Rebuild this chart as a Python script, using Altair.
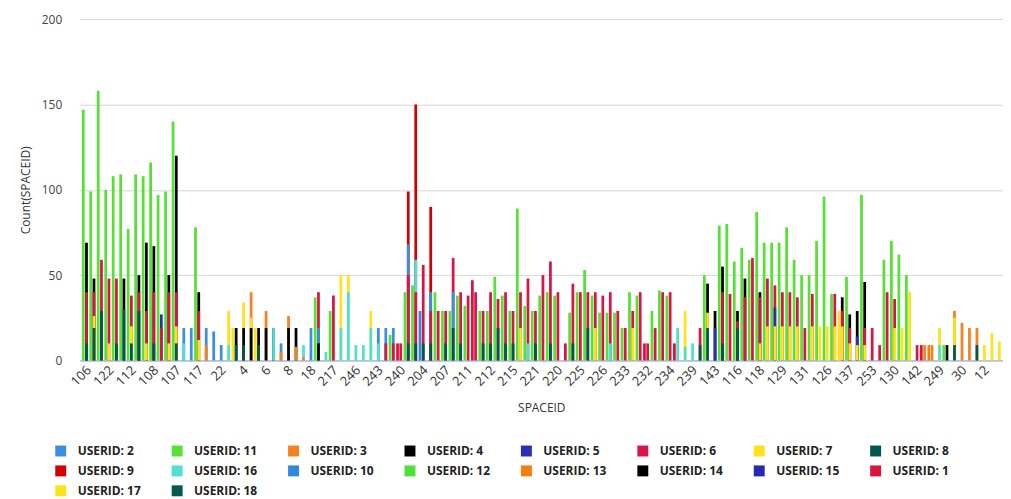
import json
import altair as alt
import pandas as pd

# ---------------- data ----------------
SPACEID_LABELS = ["106", "122", "112", "108", "107", "117", "22", "4", "6", "8", "18",
                  "217", "246", "243", "240", "204", "207", "211", "212", "215", "221",
                  "220", "225", "226", "233", "232", "234", "239", "143", "116", "118",
                  "129", "131", "126", "137", "253", "130", "142", "249", "30", "12"]
N_CATEGORIES = 123          # one SPACEID every position, labelled every third
LABEL_STEP = 3

LEGEND_ORDER = [2, 11, 3, 4, 5, 6, 7, 8, 9, 16, 10, 12, 13, 14, 15, 1, 17, 18]
COLORS = ["#3b8ee0", "#55e234", "#f5821f", "#000000", "#2a2fb4", "#dc1446",
          "#ffe11c", "#00574b", "#d40000", "#50e0d2", "#3189de", "#4fe03a",
          "#f57d12", "#000000", "#2329b0", "#dc143c", "#fde21a", "#005a4d"]
LEFT_USERS = [11, 12, 1, 17, 18, 14, 13, 10, 15]

# counts per USERID: {category position: Count(SPACEID)}
user_11 = {0: 147, 1: 99, 2: 158, 3: 100, 4: 108, 5: 109, 6: 77, 7: 109, 8: 108, 9: 116,
           10: 97, 11: 99, 12: 140, 15: 78, 31: 37, 33: 29, 41: 15, 43: 40, 44: 44,
           47: 40, 48: 29, 49: 29, 50: 38, 51: 32, 53: 29, 54: 29, 55: 49, 56: 38,
           57: 29, 58: 89, 59: 32, 60: 29, 61: 38, 62: 40, 63: 38, 65: 28, 66: 40,
           67: 53, 68: 38, 69: 28, 70: 28, 71: 28, 72: 19, 73: 40, 74: 38, 76: 29,
           77: 41, 78: 38, 83: 50, 85: 79, 86: 80, 87: 58, 88: 66, 89: 59, 90: 87,
           91: 69, 92: 69, 93: 69, 94: 78, 95: 59, 96: 50, 97: 50, 98: 70, 99: 96,
           100: 39, 102: 49, 104: 97, 107: 59, 108: 70, 109: 62, 110: 50, 115: 9}
user_4 = {0: 69, 1: 48, 5: 48, 7: 50, 8: 69, 9: 67, 11: 50, 12: 120, 15: 40, 20: 19,
          21: 19, 22: 19, 23: 19, 24: 19, 25: 19, 27: 19, 28: 19, 31: 10, 83: 45,
          84: 29, 85: 55, 87: 29, 88: 48, 90: 40, 101: 37, 102: 27, 103: 29, 104: 46,
          115: 9}
user_6 = {0: 40, 1: 40, 2: 59, 3: 48, 4: 48, 6: 38, 7: 40, 8: 29, 9: 40, 10: 19,
          11: 40, 12: 40, 15: 29, 31: 40, 33: 38, 40: 10, 41: 10, 42: 10, 43: 50,
          44: 40, 45: 56, 46: 29, 47: 29, 48: 29, 49: 60, 50: 40, 51: 38, 52: 40,
          53: 29, 54: 40, 55: 36, 56: 40, 57: 29, 58: 40, 59: 48, 60: 29, 61: 50,
          62: 58, 63: 40, 64: 10, 65: 45, 66: 40, 67: 40, 68: 40, 69: 38, 70: 40,
          71: 29, 72: 19, 73: 29, 74: 40, 75: 10, 76: 19, 77: 40, 78: 40, 82: 19,
          85: 40, 86: 39, 87: 23, 88: 37, 89: 60, 90: 37, 91: 48, 92: 44, 93: 40,
          94: 40, 95: 37, 96: 19, 97: 39, 100: 39, 101: 29, 102: 19, 104: 19,
          105: 19, 106: 9, 107: 40, 108: 36, 111: 9}
user_1 = {42: 10, 52: 47, 75: 10, 79: 10, 112: 9}
user_9 = {43: 99, 44: 150, 46: 90}
user_7 = {1: 26, 3: 10, 6: 20, 8: 10, 11: 10, 12: 20, 15: 12, 19: 29, 21: 34, 22: 25,
          24: 19, 34: 50, 35: 50, 38: 29, 58: 19, 68: 19, 73: 19, 80: 29, 83: 28,
          90: 10, 91: 20, 92: 20, 93: 20, 94: 20, 95: 20, 97: 20, 98: 20, 99: 20,
          100: 20, 101: 20, 102: 10, 103: 9, 104: 9, 108: 19, 109: 19, 110: 40,
          114: 19, 116: 25, 120: 9, 121: 16, 122: 11}
user_17 = {20: 19, 23: 19, 101: 29}
user_8 = {0: 10, 1: 19, 2: 29, 4: 10, 5: 30, 6: 10, 7: 29, 9: 10, 12: 10, 20: 9,
          21: 9, 23: 9, 43: 10, 44: 10, 45: 10, 46: 10, 48: 10, 49: 19, 50: 10,
          53: 10, 54: 10, 55: 19, 56: 10, 57: 10, 60: 10, 62: 10, 65: 10, 67: 19,
          82: 9, 83: 19, 85: 10, 87: 19, 116: 9, 119: 9}
user_2 = {13: 19, 14: 19, 16: 19, 17: 17, 18: 9, 26: 10, 30: 19, 31: 19, 39: 19,
          40: 19, 41: 19, 43: 68, 46: 40, 49: 40}
user_10 = {45: 29}
user_16 = {13: 10, 19: 9, 25: 19, 29: 9, 32: 5, 34: 19, 35: 40, 36: 9, 37: 9, 38: 19,
           39: 10, 44: 59, 59: 10, 70: 10, 79: 19, 80: 8, 81: 10, 114: 9}
user_3 = {16: 9, 22: 40, 24: 29, 26: 5, 27: 26, 28: 8, 29: 2, 112: 9, 113: 9,
          116: 29, 117: 22, 118: 19, 119: 19}
user_13 = {113: 9}
user_5 = {10: 27, 84: 19, 92: 31, 103: 14}

SERIES = {2: user_2, 11: user_11, 3: user_3, 4: user_4, 5: user_5, 6: user_6,
          7: user_7, 8: user_8, 9: user_9, 16: user_16, 10: user_10, 13: user_13,
          1: user_1, 17: user_17}

rows = []
for uid, counts in SERIES.items():
    for pos, cnt in counts.items():
        rows.append({"pos": pos, "userid": str(uid), "count": cnt,
                     "col": "L" if uid in LEFT_USERS else "R"})
df = pd.DataFrame(rows).sort_values("count", ascending=False).reset_index(drop=True)

label_expr = json.dumps(SPACEID_LABELS) + "[datum.value / %d]" % LABEL_STEP

chart = alt.Chart(df).mark_bar().encode(
    x=alt.X("pos:O",
            scale=alt.Scale(domain=list(range(N_CATEGORIES)), paddingInner=0.2, paddingOuter=0.3),
            axis=alt.Axis(values=list(range(0, N_CATEGORIES, LABEL_STEP)), labelExpr=label_expr,
                          labelAngle=-45, ticks=False, labelPadding=3, grid=False,
                          domainColor="#8ea6e4", domainWidth=1,
                          labelFont="Open Sans", labelFontSize=13, labelColor="#333333",
                          title="SPACEID", titleFont="Open Sans", titleFontSize=12,
                          titleFontWeight="normal", titleColor="#333333", titlePadding=14)),
    xOffset=alt.XOffset("col:N", scale=alt.Scale(domain=["L", "R"], paddingInner=0.15)),
    y=alt.Y("count:Q", stack=None,
            scale=alt.Scale(domain=[0, 200]),
            axis=alt.Axis(values=[0, 50, 100, 150, 200], ticks=False, domain=False,
                          labelPadding=18, labelFont="Open Sans", labelFontSize=12,
                          labelColor="#444444", gridColor="#d6d6d6",
                          title="Count(SPACEID)", titleFont="Open Sans", titleFontSize=12,
                          titleFontWeight="normal", titleColor="#333333", titlePadding=9)),
    color=alt.Color("userid:N",
                    scale=alt.Scale(domain=[str(u) for u in LEGEND_ORDER], range=COLORS),
                    legend=alt.Legend(orient="none", legendX=-25, legendY=428,
                                      direction="horizontal", columns=8, title=None,
                                      symbolType="square", symbolSize=121,
                                      symbolStrokeWidth=0, symbolOpacity=1,
                                      labelFont="Open Sans", labelFontWeight="bold",
                                      labelFontSize=12, labelColor="#222222",
                                      labelExpr="'USERID: ' + datum.label",
                                      columnPadding=30, rowPadding=8, gridAlign="all",
                                      labelOffset=11)),
).properties(
    width=928, height=343,
    padding={"left": 11, "top": 4, "right": 0, "bottom": 0},
).configure_view(stroke=None)

chart.save("out.html", embed_options={"renderer": "svg", "actions": False})
